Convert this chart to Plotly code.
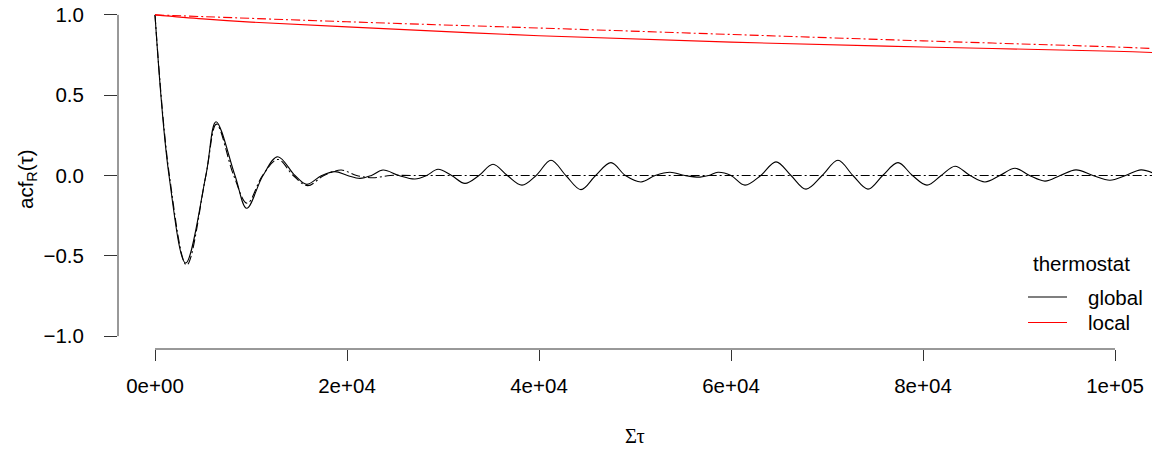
import plotly.graph_objects as go

# ---- data ----
global_x = [0, 1460, 3200, 5300, 6354, 8330, 9550, 11250, 12780, 14580, 15800, 17360,
            18750, 20050, 21350, 22550, 23750, 25400, 27080, 28300, 29480, 30900, 32290,
            33750, 35208, 36700, 38229, 39700, 41250, 42800, 44375, 45900, 47500, 49000,
            50625, 52100, 53646, 55200, 56771, 57700, 58646, 60000, 61458, 63100, 64688,
            66250, 67813, 69500, 71146, 72700, 74271, 75800, 77396, 78900, 80417, 81900,
            83333, 84900, 86458, 88000, 89583, 91100, 92708, 94300, 95938, 97700, 99479,
            101100, 102708, 103958]
global_y = [1.0, 0.0, -0.545, 0.0, 0.335, 0.0, -0.204, 0.0, 0.117, 0.0, -0.055, 0.0,
            0.024, 0.0, -0.018, 0.0, 0.034, 0.0, -0.022, 0.0, 0.039, 0.0, -0.049,
            0.0, 0.07, 0.0, -0.06, 0.0, 0.095, 0.0, -0.088, 0.0, 0.08, 0.0,
            -0.04, 0.0, 0.02, 0.0, -0.01, 0.0, 0.02, 0.0, -0.06, 0.0, 0.085,
            0.0, -0.085, 0.0, 0.095, 0.0, -0.085, 0.0, 0.08, 0.0, -0.06, 0.0,
            0.058, 0.0, -0.04, 0.0, 0.045, 0.0, -0.035, 0.0, 0.035, 0.0, -0.03,
            0.0, 0.035, 0.015]

global_fit_x = [0, 1500, 3300, 5300, 6400, 8200, 9600, 11200, 12800, 14400, 15900, 17600,
                19400, 21000, 22700, 24500, 27000, 103958]
global_fit_y = [1.0, 0.0, -0.558, 0.0, 0.32, 0.0, -0.173, 0.0, 0.10, 0.0, -0.063, 0.0,
                0.034, 0.0, -0.014, 0.0, 0.0, 0.0]

local_x = [0, 5000, 10000, 20000, 40000, 60000, 80000, 100000, 103958]
local_y = [1.0, 0.975, 0.955, 0.925, 0.87, 0.83, 0.80, 0.773, 0.765]

local_fit_x = [0, 20000, 40000, 60000, 80000, 100000, 103958]
local_fit_y = [1.0, 0.957, 0.918, 0.878, 0.838, 0.80, 0.79]

x_ticks = [0, 20000, 40000, 60000, 80000, 100000]
x_ticktext = ["0e+00", "2e+04", "4e+04", "6e+04", "8e+04", "1e+05"]
y_ticks = [-1.0, -0.5, 0.0, 0.5, 1.0]
y_ticktext = ["\u22121.0", "\u22120.5", "0.0", "0.5", "1.0"]

legend_title = "thermostat"
legend_names = ["global", "local"]
legend_colors = ["black", "#ff0000"]

FONT = "Liberation Sans, Arial, sans-serif"
FS = 20.5
DASHDOT = "9px,3px,2px,3px"

# plot-area geometry in pixels
L, T, W, H = 118, 2, 1034, 347


def px_x(p):
    return (p - L) / W


def px_y(p):
    return (T + H - p) / H


fig = go.Figure()
fig.add_trace(go.Scatter(x=global_fit_x, y=global_fit_y, mode="lines", showlegend=False,
                         line=dict(color="black", width=1.1, dash=DASHDOT, shape="spline", smoothing=1)))
fig.add_trace(go.Scatter(x=local_fit_x, y=local_fit_y, mode="lines", showlegend=False,
                         line=dict(color="#ff0000", width=1.1, dash=DASHDOT, shape="spline", smoothing=1)))
fig.add_trace(go.Scatter(x=global_x, y=global_y, mode="lines", name="global", showlegend=False,
                         line=dict(color="black", width=1.1, shape="spline", smoothing=1)))
fig.add_trace(go.Scatter(x=local_x, y=local_y, mode="lines", name="local", showlegend=False,
                         line=dict(color="#ff0000", width=1.1, shape="spline", smoothing=1)))

# axis lines spanning first to last tick (R style)
fig.add_shape(type="line", xref="x", yref="paper", x0=x_ticks[0], x1=x_ticks[-1], y0=0, y1=0,
              line=dict(color="#333333", width=1))
fig.add_shape(type="line", xref="paper", yref="y", x0=0, x1=0, y0=y_ticks[0], y1=y_ticks[-1],
              line=dict(color="#333333", width=1))

# axis titles
fig.add_annotation(text="acf<sub>R</sub>(\u03c4)", xref="paper", yref="paper",
                   x=px_x(27), y=px_y(180), textangle=-90, showarrow=False,
                   xanchor="center", yanchor="middle", font=dict(family=FONT, size=FS, color="black"))
fig.add_annotation(text="\u03a3\u03c4", xref="paper", yref="paper",
                   x=0.5, y=px_y(436), showarrow=False,
                   xanchor="center", yanchor="middle",
                   font=dict(family="Liberation Serif, DejaVu Serif, serif", size=FS, color="black"))

# legend (R style)
fig.add_annotation(text=legend_title, xref="paper", yref="paper", x=px_x(1081), y=px_y(263),
                   showarrow=False, xanchor="center", yanchor="middle",
                   font=dict(family=FONT, size=FS, color="black"))
for i, (nm, col) in enumerate(zip(legend_names, legend_colors)):
    yy = 297 + 25.5 * i
    fig.add_shape(type="line", xref="paper", yref="paper", x0=px_x(1028), x1=px_x(1067),
                  y0=px_y(yy), y1=px_y(yy), line=dict(color=col, width=1.1))
    fig.add_annotation(text=nm, xref="paper", yref="paper", x=px_x(1086), y=px_y(yy),
                       showarrow=False, xanchor="left", yanchor="middle",
                       font=dict(family=FONT, size=FS, color="black"))

fig.update_layout(
    width=1153, height=452,
    margin=dict(l=L, r=1153 - L - W, t=T, b=452 - T - H, autoexpand=False),
    paper_bgcolor="white", plot_bgcolor="white",
    font=dict(family=FONT, size=FS, color="black"),
    showlegend=False,
    xaxis=dict(range=[-3854, 103854], tickvals=x_ticks, ticktext=x_ticktext,
               ticks="outside", ticklen=11, tickcolor="#333333", tickwidth=1,
               showline=False, showgrid=False, zeroline=False, ticklabelstandoff=7,
               automargin=False, tickfont=dict(family=FONT, size=FS, color="black")),
    yaxis=dict(range=[-1.08, 1.08], tickvals=y_ticks, ticktext=y_ticktext,
               ticks="outside", ticklen=13, tickcolor="#333333", tickwidth=1,
               showline=False, showgrid=False, zeroline=False, ticklabelstandoff=16,
               automargin=False, tickfont=dict(family=FONT, size=FS, color="black")),
)

fig.write_html("out.html", config={"displayModeBar": False},
               post_script="document.body.style.margin='0px';document.body.style.padding='0px';")
